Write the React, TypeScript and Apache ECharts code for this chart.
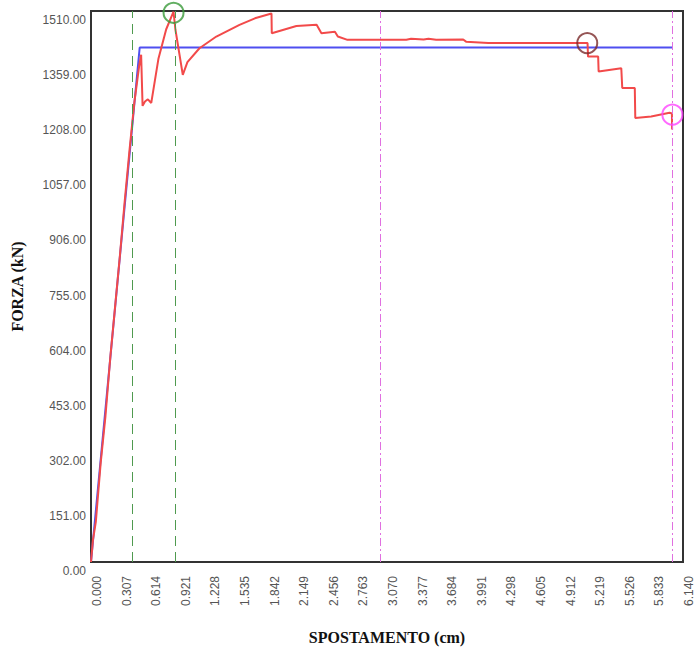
import React, { useEffect, useRef } from "react";
import * as echarts from "echarts";

// Experimental curve (red)
const redX = [0, 0.02, 0.05, 0.1, 0.15, 0.2, 0.25, 0.3, 0.35, 0.4, 0.45, 0.48, 0.5, 0.52, 0.535, 0.56, 0.59, 0.625, 0.7, 0.78, 0.856, 0.875, 0.952, 1.0, 1.125, 1.3, 1.54, 1.7, 1.872, 1.875, 2.13, 2.34, 2.39, 2.53, 2.56, 2.66, 3.27, 3.32, 3.45, 3.5, 3.58, 3.86, 3.89, 4.12, 5.15, 5.155, 5.26, 5.265, 5.5, 5.51, 5.64, 5.645, 5.81, 6.0, 6.025, 6.027];
const redY = [0, 60, 110, 270, 400, 560, 700, 840, 990, 1130, 1260, 1320, 1360, 1390, 1250, 1262, 1268, 1258, 1380, 1460, 1508, 1460, 1335, 1370, 1408, 1440, 1472, 1490, 1503, 1449, 1469, 1472, 1449, 1453, 1440, 1431, 1431, 1434, 1432, 1434, 1431, 1432, 1426, 1422, 1422, 1385, 1385, 1344, 1353, 1299, 1299, 1217, 1221, 1231, 1229, 1185];

// Bilinear idealisation (blue)
const blueX = [0, 0.505, 6.03];
const blueY = [0, 1410, 1410];

// Reference vertical lines
const greenLinesX = [0.43, 0.866];
const magentaLinesX = [3.003, 6.03];

// Marked points
const peakPoint = [0.856, 1505];
const brownPoint = [5.147, 1422];
const magentaPoint = [6.03, 1226];

// Axis settings
const yMax = 1510;
const yStep = 151;
const xMax = 6.14;
const xStep = 0.307;

export default function App() {
  const ref = useRef<HTMLDivElement>(null);

  useEffect(() => {
    if (!ref.current) return;
    const chart = echarts.init(ref.current, undefined, { renderer: "svg" });
    const labelColor = "#555";
    const option = {
      animation: false,
      backgroundColor: "#fff",
      grid: {
        left: 91,
        right: 13,
        top: 11,
        bottom: 86,
        show: true,
        borderColor: "#333",
        borderWidth: 2,
      },
      xAxis: {
        type: "value",
        min: 0,
        max: xMax,
        interval: xStep,
        name: "SPOSTAMENTO (cm)",
        nameLocation: "middle",
        nameGap: 67,
        nameTextStyle: {
          fontFamily: "Liberation Serif",
          fontWeight: "bold",
          fontSize: 16,
          color: "#111",
        },
        axisLine: { show: true, lineStyle: { color: "#333", width: 2 } },
        axisTick: { show: false },
        splitLine: { show: false },
        axisLabel: {
          rotate: 90,
          margin: 14,
          color: labelColor,
          fontFamily: "Liberation Sans",
          fontSize: 12,
          verticalAlign: "top",
          lineHeight: 12,
          showMaxLabel: true,
          formatter: (v: number) => v.toFixed(3),
        },
      },
      yAxis: {
        type: "value",
        min: 0,
        max: yMax,
        interval: yStep,
        name: "FORZA (kN)",
        nameLocation: "middle",
        nameGap: 66,
        nameTextStyle: {
          fontFamily: "Liberation Serif",
          fontWeight: "bold",
          fontSize: 16,
          color: "#111",
        },
        axisLine: { show: true, lineStyle: { color: "#333", width: 2 } },
        axisTick: { show: false },
        splitLine: { show: false },
        axisLabel: {
          margin: 5,
          color: labelColor,
          fontFamily: "Liberation Sans",
          fontSize: 12,
          verticalAlign: "top",
          lineHeight: 18,
          formatter: (v: number) => v.toFixed(2),
        },
      },
      series: [
        {
          type: "line",
          name: "blue",
          data: blueX.map((x, i) => [x, blueY[i]]),
          symbol: "none",
          lineStyle: { color: "#4f4ff0", width: 2 },
          z: 3,
          markLine: {
            silent: true,
            symbol: "none",
            label: { show: false },
            data: [
              ...greenLinesX.map((x) => ({
                xAxis: x,
                lineStyle: { color: "#4f9a4f", width: 1, type: [10, 6] },
              })),
              ...magentaLinesX.map((x) => ({
                xAxis: x,
                lineStyle: { color: "#e070e0", width: 1, type: [8, 3, 2, 3] },
              })),
            ],
          },
        },
        {
          type: "line",
          name: "red",
          data: redX.map((x, i) => [x, redY[i]]),
          symbol: "none",
          lineStyle: { color: "#f24a4a", width: 2 },
          z: 4,
        },
        {
          type: "scatter",
          data: [peakPoint],
          symbol: "circle",
          symbolSize: 20,
          itemStyle: { color: "rgba(0,0,0,0)", borderColor: "#3a9a3a", borderWidth: 2 },
          z: 5,
        },
        {
          type: "scatter",
          data: [brownPoint],
          symbol: "circle",
          symbolSize: 20,
          itemStyle: { color: "rgba(0,0,0,0)", borderColor: "#7a2a2a", borderWidth: 2 },
          z: 5,
        },
        {
          type: "scatter",
          data: [magentaPoint],
          symbol: "circle",
          symbolSize: 20,
          itemStyle: { color: "rgba(0,0,0,0)", borderColor: "#ff44ff", borderWidth: 2 },
          z: 5,
        },
      ],
    };
    chart.setOption(option as any);
    return () => chart.dispose();
  }, []);

  return (
    <div
      ref={ref}
      style={{ position: "fixed", left: 0, top: 0, width: 696, height: 650 }}
    />
  );
}
